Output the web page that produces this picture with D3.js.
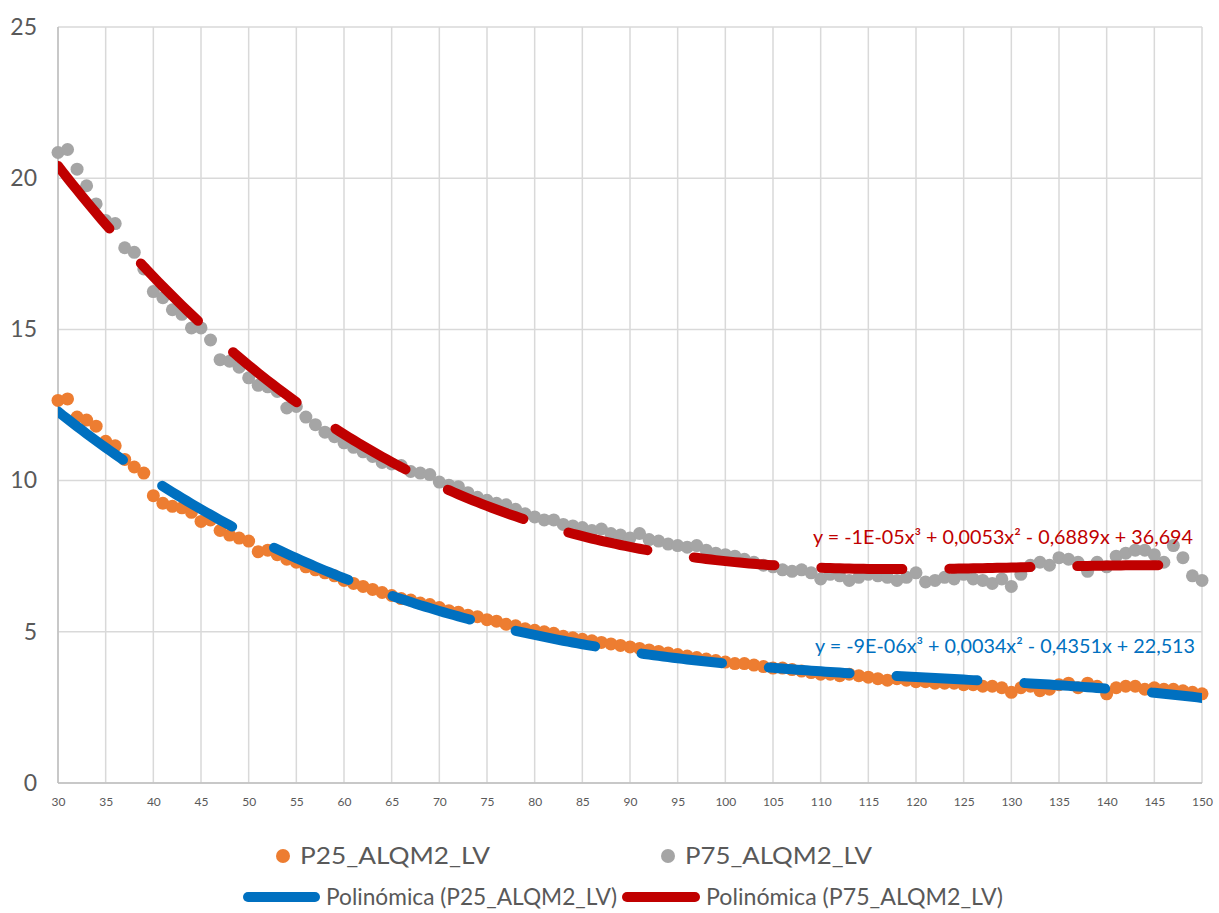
<!DOCTYPE html>
<html><head><meta charset="utf-8">
<script src="https://cdn.jsdelivr.net/npm/d3@7"></script>
<style>body{margin:0;background:#fff} svg{display:block} text{font-family:Lato,'Open Sans',sans-serif}</style>
</head><body>
<svg id="c" width="1219" height="913"></svg>
<script>
const xValues = [30,31,32,33,34,35,36,37,38,39,40,41,42,43,44,45,46,47,48,49,50,51,52,53,54,55,56,57,58,59,60,61,62,63,64,65,66,67,68,69,70,71,72,73,74,75,76,77,78,79,80,81,82,83,84,85,86,87,88,89,90,91,92,93,94,95,96,97,98,99,100,101,102,103,104,105,106,107,108,109,110,111,112,113,114,115,116,117,118,119,120,121,122,123,124,125,126,127,128,129,130,131,132,133,134,135,136,137,138,139,140,141,142,143,144,145,146,147,148,149,150];
const p25 = [
 12.65,12.7,12.1,12.0,11.8,11.3,11.15,10.7,10.45,10.25,
 9.5,9.25,9.15,9.1,8.95,8.65,8.7,8.35,8.2,8.1,
 8.0,7.65,7.7,7.55,7.4,7.3,7.15,7.05,6.95,6.85,
 6.7,6.6,6.5,6.4,6.3,6.2,6.1,6.05,5.95,5.9,
 5.8,5.7,5.65,5.55,5.5,5.4,5.35,5.25,5.2,5.1,
 5.05,5.0,4.95,4.85,4.8,4.75,4.7,4.65,4.6,4.55,
 4.5,4.45,4.4,4.35,4.3,4.25,4.2,4.15,4.1,4.05,
 4.0,3.95,3.95,3.9,3.85,3.8,3.8,3.75,3.7,3.65,
 3.6,3.6,3.55,3.6,3.55,3.5,3.45,3.4,3.45,3.4,
 3.35,3.35,3.3,3.3,3.3,3.25,3.25,3.2,3.2,3.15,
 3.0,3.15,3.2,3.05,3.1,3.25,3.3,3.15,3.3,3.2,
 2.95,3.15,3.2,3.2,3.1,3.15,3.1,3.1,3.05,3.0,
 2.95];
const p75 = [
 20.85,20.95,20.3,19.75,19.15,18.6,18.5,17.7,17.55,17.0,
 16.25,16.05,15.65,15.5,15.05,15.05,14.65,14.0,13.95,13.75,
 13.4,13.15,13.1,12.95,12.4,12.45,12.1,11.85,11.6,11.45,
 11.25,11.1,10.95,10.8,10.6,10.55,10.5,10.3,10.25,10.2,
 9.95,9.85,9.8,9.6,9.45,9.35,9.25,9.2,9.05,8.9,
 8.8,8.7,8.7,8.55,8.5,8.45,8.35,8.4,8.25,8.2,
 8.1,8.25,8.05,8.0,7.9,7.85,7.8,7.85,7.7,7.6,
 7.55,7.5,7.4,7.3,7.2,7.15,7.05,7.0,7.05,6.95,
 6.75,6.9,6.85,6.7,6.8,6.9,6.85,6.8,6.7,6.8,
 6.95,6.65,6.7,6.8,6.75,6.9,6.75,6.7,6.6,6.75,
 6.5,6.9,7.2,7.3,7.2,7.45,7.4,7.3,7.0,7.3,
 7.15,7.5,7.6,7.7,7.7,7.55,7.3,7.85,7.45,6.85,
 6.7];
const yTicks = [0,5,10,15,20,25];
const xTicks = [30,35,40,45,50,55,60,65,70,75,80,85,90,95,100,105,110,115,120,125,130,135,140,145,150];
const seriesNames = ["P25_ALQM2_LV","P75_ALQM2_LV"];
const trendNames = ["Polinómica (P25_ALQM2_LV)","Polinómica (P75_ALQM2_LV)"];
const equations = ["y = -9E-06x³ + 0,0034x² - 0,4351x + 22,513","y = -1E-05x³ + 0,0053x² - 0,6889x + 36,694"];
const pointColors = ["#ED7D31","#A5A5A5"];
const trendColors = ["#0070C0","#C00000"];

// cubic least-squares fit (as Excel's polynomial trendline)
function polyfit(xs, ys, deg){
  const mx = d3.mean(xs), sx = (d3.max(xs)-d3.min(xs))/2, n = deg+1;
  const A = Array.from({length:n},()=>new Array(n).fill(0)), b = new Array(n).fill(0);
  xs.forEach((x,i)=>{const t=(x-mx)/sx; for(let j=0;j<n;j++){b[j]+=ys[i]*Math.pow(t,j); for(let k=0;k<n;k++) A[j][k]+=Math.pow(t,j+k);}});
  for(let i=0;i<n;i++){let p=i; for(let r=i+1;r<n;r++) if(Math.abs(A[r][i])>Math.abs(A[p][i])) p=r;
    [A[i],A[p]]=[A[p],A[i]]; [b[i],b[p]]=[b[p],b[i]];
    for(let r=i+1;r<n;r++){const f=A[r][i]/A[i][i]; for(let k=i;k<n;k++) A[r][k]-=f*A[i][k]; b[r]-=f*b[i];}}
  const c=new Array(n).fill(0);
  for(let i=n-1;i>=0;i--){let s=b[i]; for(let k=i+1;k<n;k++) s-=A[i][k]*c[k]; c[i]=s/A[i][i];}
  return x=>{const t=(x-mx)/sx; return c.reduce((s,cj,j)=>s+cj*Math.pow(t,j),0);};
}

const svg = d3.select("#c");
const L=58, R=1202, T=27, B=783;
const x = d3.scaleLinear().domain([30,150]).range([L,R]);
const y = d3.scaleLinear().domain([0,25]).range([B,T]);

// gridlines
svg.append("g").selectAll("line").data(xTicks).join("line")
  .attr("x1",d=>x(d)).attr("x2",d=>x(d)).attr("y1",T).attr("y2",B)
  .attr("stroke","#d9d9d9").attr("stroke-width",1.5);
svg.append("g").selectAll("line").data(yTicks).join("line")
  .attr("x1",L).attr("x2",R).attr("y1",d=>y(d)).attr("y2",d=>y(d))
  .attr("stroke","#d9d9d9").attr("stroke-width",1.5);
svg.append("line").attr("x1",L).attr("x2",R).attr("y1",y(0)).attr("y2",y(0)).attr("stroke","#bfbfbf").attr("stroke-width",1.5);
svg.append("line").attr("x1",L).attr("x2",L).attr("y1",T).attr("y2",B).attr("stroke","#bfbfbf").attr("stroke-width",1.5);

// axes labels
const yAxis = d3.axisLeft(y).tickValues(yTicks).tickSize(0).tickPadding(21).tickFormat(d3.format("d"));
const gy = svg.append("g").attr("transform",`translate(${L},0)`).call(yAxis);
gy.select(".domain").remove();
gy.selectAll("text").attr("fill","#595959").style("font-size","23px").style("font-family","Lato,'Open Sans',sans-serif");
const xAxis = d3.axisBottom(x).tickValues(xTicks).tickSize(0).tickPadding(14).tickFormat(d3.format("d"));
const gx = svg.append("g").attr("transform",`translate(0,${B})`).call(xAxis);
gx.select(".domain").remove();
gx.selectAll("text").attr("fill","#595959").style("font-size","12px").style("font-family","Lato,'Open Sans',sans-serif");

// points
[p25,p75].forEach((vals,si)=>{
  svg.append("g").selectAll("circle").data(xValues.map((xv,i)=>[xv,vals[i]])).join("circle")
    .attr("cx",d=>x(d[0])).attr("cy",d=>y(d[1])).attr("r",6.5).attr("fill",pointColors[si]);
});

// trendlines
svg.append("clipPath").attr("id","plot").append("rect").attr("x",L).attr("y",T).attr("width",R-L).attr("height",B-T);
const samples = d3.range(30,150.001,0.5);
const line = d3.line().x(d=>x(d[0])).y(d=>y(d[1]));
[p25,p75].forEach((vals,si)=>{
  const f = polyfit(xValues, vals, 3);
  svg.append("path").attr("clip-path","url(#plot)")
    .attr("d", line(samples.map(s=>[s,f(s)])))
    .attr("fill","none").attr("stroke",trendColors[si]).attr("stroke-width",10)
    .attr("stroke-linecap","round").attr("stroke-dasharray","81,47");
});

// equations
const eqPos = [[815,646,380],[813,537,380]];
equations.forEach((t,i)=>{
  svg.append("text").attr("x",eqPos[i][0]).attr("y",eqPos[i][1]).attr("dy","0.35em")
    .attr("fill",trendColors[i]).style("font-size","19px")
    .attr("textLength",eqPos[i][2]).attr("lengthAdjust","spacingAndGlyphs").text(t);
});

// legend
const lg = svg.append("g");
const row1 = [[283,300,190],[668,685,187]];
seriesNames.forEach((n,i)=>{
  lg.append("circle").attr("cx",row1[i][0]).attr("cy",856).attr("r",7).attr("fill",pointColors[i]);
  lg.append("text").attr("x",row1[i][1]).attr("y",856).attr("dy","0.35em").attr("fill","#595959")
    .style("font-size","23px").attr("textLength",row1[i][2]).attr("lengthAdjust","spacingAndGlyphs").text(n);
});
const row2 = [[243,320,326,291],[622,700,706,297]];
trendNames.forEach((n,i)=>{
  lg.append("line").attr("x1",row2[i][0]+5).attr("x2",row2[i][1]-5).attr("y1",897).attr("y2",897)
    .attr("stroke",trendColors[i]).attr("stroke-width",10).attr("stroke-linecap","round");
  lg.append("text").attr("x",row2[i][2]).attr("y",897).attr("dy","0.35em").attr("fill","#595959")
    .style("font-size","23px").attr("textLength",row2[i][3]).attr("lengthAdjust","spacingAndGlyphs").text(n);
});
</script>
</body></html>
